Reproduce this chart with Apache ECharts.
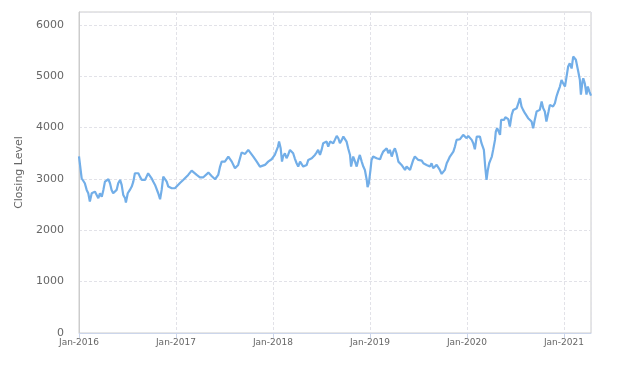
<!DOCTYPE html>
<html>
<head>
<meta charset="utf-8">
<script src="https://cdn.jsdelivr.net/npm/echarts@6/dist/echarts.min.js"></script>
<style>html,body{margin:0;padding:0;background:#fff}#c{width:631px;height:366px}</style>
</head>
<body>
<div id="c"></div>
<script>
var yAxisName = 'Closing Level';
var xStart = '2016-01-01';
var xEnd = '2021-04-13';
var yTicks = [0, 1000, 2000, 3000, 4000, 5000, 6000];

var dates = [
'2016-01-01','2016-01-05','2016-01-11','2016-01-17','2016-01-23','2016-01-30','2016-02-05','2016-02-11','2016-02-18','2016-02-24',
'2016-03-01','2016-03-08','2016-03-14','2016-03-20','2016-03-27','2016-04-02','2016-04-08','2016-04-15','2016-04-21','2016-04-27',
'2016-05-03','2016-05-09','2016-05-16','2016-05-22','2016-05-28','2016-06-04','2016-06-10','2016-06-16','2016-06-23','2016-06-26',
'2016-07-03','2016-07-11','2016-07-18','2016-07-24','2016-07-30','2016-08-06','2016-08-12','2016-08-18','2016-08-25','2016-08-31',
'2016-09-06','2016-09-12','2016-09-18','2016-09-25','2016-10-01','2016-10-07','2016-10-14','2016-10-20','2016-10-26','2016-11-02',
'2016-11-08','2016-11-14','2016-11-20','2016-11-27','2016-12-03','2016-12-09','2016-12-16','2016-12-22','2016-12-28',
'2017-01-03','2017-01-16','2017-01-28','2017-02-04','2017-02-16','2017-03-01','2017-03-07','2017-03-20','2017-04-01','2017-04-14',
'2017-04-20','2017-05-03','2017-05-15','2017-05-28','2017-06-09','2017-06-16','2017-06-22','2017-07-04','2017-07-17','2017-07-30',
'2017-08-11','2017-08-23','2017-09-05','2017-09-18','2017-09-30','2017-10-07','2017-10-19','2017-11-01','2017-11-13','2017-11-20',
'2017-12-02','2017-12-14','2017-12-27',
'2018-01-08','2018-01-20','2018-01-24','2018-01-30','2018-02-04','2018-02-08','2018-02-15','2018-02-21','2018-02-27','2018-03-06',
'2018-03-12','2018-03-18','2018-03-24','2018-03-31','2018-04-06','2018-04-13','2018-04-19','2018-04-25','2018-05-01','2018-05-08',
'2018-05-14','2018-05-27','2018-06-02','2018-06-08','2018-06-14','2018-06-20','2018-06-27','2018-07-03','2018-07-09','2018-07-16',
'2018-07-22','2018-07-28','2018-08-04','2018-08-10','2018-08-16','2018-08-22','2018-08-29','2018-09-04','2018-09-10','2018-09-17',
'2018-09-23','2018-09-29','2018-10-05','2018-10-11','2018-10-18','2018-10-22','2018-10-26','2018-10-30','2018-11-06','2018-11-12',
'2018-11-18','2018-11-24','2018-12-01','2018-12-07','2018-12-13','2018-12-20','2018-12-23','2018-12-28',
'2019-01-03','2019-01-07','2019-01-13','2019-01-19','2019-01-26','2019-02-01','2019-02-08','2019-02-14','2019-02-20','2019-02-26',
'2019-03-05','2019-03-11','2019-03-17','2019-03-24','2019-03-30','2019-04-05','2019-04-11','2019-04-18','2019-04-24','2019-04-30',
'2019-05-06','2019-05-13','2019-05-19','2019-05-25','2019-06-01','2019-06-07','2019-06-13','2019-06-19','2019-06-26','2019-07-02',
'2019-07-08','2019-07-15','2019-07-21','2019-07-27','2019-08-02','2019-08-08','2019-08-15','2019-08-21','2019-08-27','2019-09-03',
'2019-09-09','2019-09-15','2019-09-21','2019-09-28','2019-10-04','2019-10-10','2019-10-17','2019-10-23','2019-10-29','2019-11-04',
'2019-11-11','2019-11-17','2019-11-23','2019-11-29','2019-12-06','2019-12-12','2019-12-18','2019-12-25','2019-12-31',
'2020-01-06','2020-01-12','2020-01-19','2020-01-25','2020-01-31','2020-02-07','2020-02-13','2020-02-19','2020-02-25','2020-02-29',
'2020-03-05','2020-03-10','2020-03-15','2020-03-20','2020-03-25','2020-03-30','2020-04-04','2020-04-09','2020-04-16','2020-04-19',
'2020-04-24','2020-04-30','2020-05-05','2020-05-09','2020-05-15','2020-05-20','2020-05-25','2020-05-30','2020-06-05','2020-06-11',
'2020-06-18','2020-06-24','2020-06-30','2020-07-07','2020-07-13','2020-07-19','2020-07-25','2020-07-31','2020-08-07','2020-08-13',
'2020-08-19','2020-08-26','2020-09-01','2020-09-07','2020-09-13','2020-09-20','2020-09-26','2020-10-02','2020-10-09','2020-10-15',
'2020-10-21','2020-10-27','2020-10-31','2020-11-04','2020-11-09','2020-11-15','2020-11-21','2020-11-28','2020-12-04','2020-12-10',
'2020-12-17','2020-12-23','2020-12-29',
'2021-01-05','2021-01-11','2021-01-17','2021-01-23','2021-01-30','2021-02-05','2021-02-10','2021-02-15','2021-02-24','2021-03-02',
'2021-03-06','2021-03-12','2021-03-15','2021-03-21','2021-03-27','2021-04-01','2021-04-07','2021-04-13'
];

var closes = [
3440,3434,3013,2980,2916,2786,2721,2558,2721,2688,
2753,2721,2624,2721,2655,2786,2948,2916,2994,2916,
2786,2721,2688,2786,2916,2980,2883,2688,2624,2538,
2721,2786,2851,2948,3110,3078,3110,3045,2980,2948,
2980,3045,3110,3078,3013,2948,2883,2851,2721,2604,
2786,3045,3013,2948,2851,2818,2818,2799,2818,
2830,2920,2980,3013,3078,3162,3143,3078,3032,3032,
3013,3123,3058,2994,3078,3240,3337,3337,3435,3337,
3208,3273,3513,3487,3565,3565,3435,3337,3240,3208,
3273,3337,3383,
3467,3630,3727,3597,3337,3435,3500,3402,3467,3565,
3597,3500,3402,3305,3240,3337,3305,3240,3208,3273,
3370,3402,3402,3467,3513,3565,3467,3565,3695,3727,
3727,3630,3727,3708,3695,3760,3838,3792,3695,3760,
3825,3812,3727,3597,3467,3240,3273,3435,3337,3240,
3370,3467,3337,3240,3175,2980,2838,2916,
3175,3370,3435,3448,3402,3435,3383,3467,3532,3500,
3597,3500,3565,3435,3532,3597,3500,3337,3370,3273,
3305,3175,3240,3208,3175,3273,3370,3435,3467,3370,
3337,3357,3305,3337,3273,3305,3240,3305,3208,3240,
3273,3305,3175,3097,3078,3175,3305,3370,3435,3467,
3532,3630,3760,3792,3773,3792,3857,3825,3792,
3838,3825,3760,3695,3578,3825,3857,3825,3695,3727,
3565,3240,2980,3175,3305,3370,3435,3565,3760,3922,
3987,3922,3857,4149,4182,4149,4201,4182,4163,4019,
4247,4344,4312,4377,4474,4572,4409,4344,4280,4312,
4182,4149,4117,3987,4149,4312,4280,4344,4507,4377,
4312,4117,4117,4312,4442,4409,4409,4474,4604,4701,
4798,4928,4863,
4798,4993,5188,5250,5150,5383,5415,5320,5090,4930,
4640,4900,4960,4850,4640,4800,4700,4620
];

function toYear(s) {
  var p = s.split('-');
  var y = +p[0];
  var t = Date.UTC(y, +p[1] - 1, +p[2]);
  var t0 = Date.UTC(y, 0, 1), t1 = Date.UTC(y + 1, 0, 1);
  return y + (t - t0) / (t1 - t0);
}

var seriesData = dates.map(function (d, i) { return [toYear(d), closes[i]]; });

var chart = echarts.init(document.getElementById('c'), null, {renderer: 'canvas'});
chart.setOption({
  animation: false,
  backgroundColor: '#ffffff',
  textStyle: {fontFamily: 'DejaVu Sans'},
  grid: {left: 79, right: 40, top: 12, bottom: 33, show: true, borderColor: '#cccccc', borderWidth: 1},
  xAxis: {
    type: 'value',
    min: toYear(xStart),
    max: toYear(xEnd),
    interval: 1,
    axisLine: {show: true, lineStyle: {color: '#ccd6eb', width: 1}},
    axisTick: {show: true, length: 5, lineStyle: {color: '#ccd6eb'}},
    axisLabel: {
      color: '#666666', fontSize: 9, margin: 5, showMaxLabel: false,
      formatter: function (v) { return 'Jan-' + Math.round(v); }
    },
    splitLine: {show: true, lineStyle: {color: '#e2e2e8', type: [3, 2], width: 1}}
  },
  yAxis: {
    type: 'value',
    min: yTicks[0],
    max: 6250,
    interval: 1000,
    name: yAxisName,
    nameLocation: 'middle',
    nameGap: 37,
    nameTextStyle: {color: '#666666', fontSize: 11},
    axisLine: {show: true, lineStyle: {color: '#cccccc'}},
    axisTick: {show: false},
    axisLabel: {
      color: '#666666', fontSize: 11, margin: 15, showMaxLabel: false,
      formatter: function (v) { return String(v); }
    },
    splitLine: {show: true, lineStyle: {color: '#e2e2e8', type: [3, 2], width: 1}}
  },
  series: [{
    type: 'line',
    data: seriesData,
    showSymbol: false,
    lineStyle: {color: '#72aee8', width: 2.2},
    itemStyle: {color: '#72aee8'}
  }]
});
</script>
</body>
</html>
